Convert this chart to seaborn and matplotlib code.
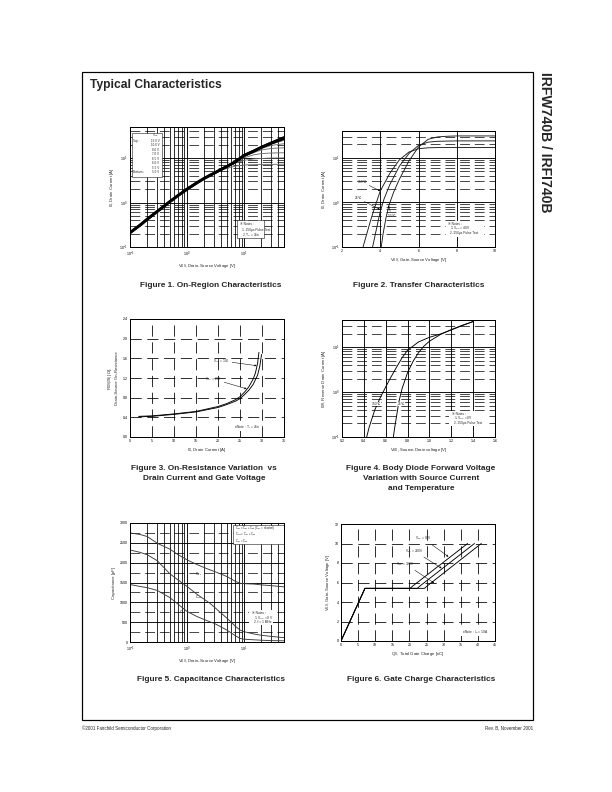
import numpy as np
import pandas as pd
import matplotlib
matplotlib.use("Agg")
import matplotlib.pyplot as plt
import seaborn as sns
from matplotlib.ticker import MultipleLocator, LogLocator, FormatStrFormatter, NullFormatter, FixedLocator
from matplotlib.patches import Rectangle
from matplotlib import font_manager as fm

# ---------------- data ----------------
# Figure 1: On-region characteristics
f1_vds = [0.1, 0.15, 0.2, 0.3, 0.5, 0.7, 1, 1.5, 2, 3, 4, 5, 7, 10, 15, 20, 30, 50]
f1_id_15v = [0.21, 0.31, 0.42, 0.63, 1.05, 1.45, 2.0, 2.8, 3.5, 4.6, 5.6, 6.5, 8.2, 11.5, 14.5, 17.5, 22.0, 29.0]
f1_id_10v = [0.21, 0.31, 0.42, 0.63, 1.05, 1.45, 2.0, 2.8, 3.5, 4.6, 5.6, 6.5, 8.2, 11.5, 14.5, 17.4, 21.6, 27.5]
f1_id_8v = [0.21, 0.31, 0.42, 0.63, 1.05, 1.45, 2.0, 2.8, 3.5, 4.6, 5.6, 6.5, 8.2, 11.4, 14.3, 17.0, 20.8, 25.0]
f1_id_7v = [0.21, 0.31, 0.42, 0.63, 1.05, 1.45, 2.0, 2.8, 3.5, 4.6, 5.6, 6.5, 8.2, 11.2, 14.0, 16.4, 19.3, 21.0]
f1_id_65v = [0.21, 0.31, 0.42, 0.63, 1.05, 1.45, 2.0, 2.8, 3.5, 4.6, 5.6, 6.5, 8.1, 10.9, 13.4, 15.2, 16.5, 17.0]
f1_id_6v = [0.21, 0.31, 0.42, 0.63, 1.05, 1.45, 2.0, 2.8, 3.5, 4.6, 5.6, 6.5, 8.0, 10.2, 11.9, 12.6, 13.0, 13.2]
f1_id_55v = [0.21, 0.31, 0.42, 0.63, 1.05, 1.45, 2.0, 2.8, 3.5, 4.6, 5.5, 6.3, 7.7, 8.9, 9.6, 9.8, 10.0, 10.1]
f1_id_5v = [0.21, 0.31, 0.42, 0.63, 1.05, 1.45, 2.0, 2.8, 3.5, 4.5, 5.3, 5.9, 6.6, 7.0, 7.1, 7.2, 7.2, 7.3]
f1_vgs_names = ["15.0 V", "10.0 V", "8.0 V", "7.0 V", "6.5 V", "6.0 V", "5.5 V", "5.0 V"]

# Figure 2: Transfer characteristics
f2_vgs_150 = [3.1, 3.3, 3.5, 3.7, 4.0, 4.5, 5.0, 5.5, 6.0, 6.5, 7.0, 8.0, 10.0]
f2_id_150 = [0.1, 0.2, 0.4, 0.75, 1.8, 4.5, 9.0, 13.5, 16.0, 16.8, 17.0, 17.0, 17.0]
f2_vgs_25 = [3.6, 3.75, 3.9, 4.0, 4.2, 4.5, 5.0, 5.5, 6.0, 6.5, 7.0, 8.0, 10.0]
f2_id_25 = [0.1, 0.2, 0.4, 0.62, 1.2, 2.5, 6.5, 12.5, 19.0, 22.5, 23.5, 24.0, 24.0]
f2_vgs_m55 = [4.05, 4.15, 4.3, 4.45, 4.7, 5.0, 5.5, 6.0, 6.5, 7.0, 7.5, 8.0, 10.0]
f2_id_m55 = [0.1, 0.2, 0.45, 0.85, 1.7, 3.3, 8.5, 17.5, 26.0, 29.5, 30.5, 31.0, 31.0]

# Figure 3: On-resistance vs drain current
f3_id_10v = [2, 5, 10, 15, 20, 22, 24, 25, 26, 27, 28, 28.5, 29, 29.3]
f3_rds_10v = [0.42, 0.43, 0.47, 0.52, 0.62, 0.68, 0.76, 0.82, 0.91, 1.02, 1.18, 1.30, 1.50, 1.72]
f3_id_20v = [2, 5, 10, 15, 20, 22, 24, 25, 26, 27, 28, 29, 29.5, 29.9]
f3_rds_20v = [0.41, 0.42, 0.46, 0.51, 0.60, 0.66, 0.73, 0.78, 0.86, 0.95, 1.07, 1.26, 1.44, 1.68]

# Figure 4: Body diode forward voltage
f4_vsd_150 = [0.426, 0.45, 0.5, 0.55, 0.6, 0.65, 0.7, 0.75, 0.8, 0.9, 1.0, 1.1, 1.2, 1.3, 1.4]
f4_idr_150 = [0.1, 0.17, 0.4, 0.75, 1.3, 2.2, 3.6, 5.8, 8.5, 13.0, 16.5, 19.5, 24.0, 30.0, 37.0]
f4_vsd_25 = [0.67, 0.68, 0.7, 0.72, 0.75, 0.8, 0.85, 0.9, 0.95, 1.0, 1.1, 1.2, 1.3, 1.4]
f4_idr_25 = [0.1, 0.15, 0.3, 0.6, 1.2, 2.7, 4.8, 7.5, 10.5, 13.5, 19.0, 24.5, 30.5, 37.0]

# Figure 5: Capacitance
f5_vds = [0.1, 0.15, 0.2, 0.3, 0.5, 0.7, 1, 1.5, 2.5, 3, 5, 7, 8.5, 10, 15, 20, 30, 50]
f5_ciss = [2750, 2710, 2660, 2490, 2340, 2200, 2070, 1950, 1820, 1780, 1650, 1530, 1480, 1470, 1460, 1440, 1420, 1390]
f5_coss = [2320, 2260, 2200, 2050, 1720, 1560, 1400, 1200, 980, 880, 600, 400, 300, 260, 200, 170, 140, 110]
f5_crss = [1450, 1400, 1370, 1300, 1120, 950, 770, 640, 510, 470, 300, 160, 90, 70, 55, 45, 35, 30]

# Figure 6: Gate charge
f6_qg_80 = [0, 7, 20.2, 21, 37]
f6_vgs_80 = [0, 5.4, 5.4, 5.65, 10]
f6_qg_200 = [0, 7, 22.3, 23.1, 39]
f6_vgs_200 = [0, 5.4, 5.4, 5.65, 10]
f6_qg_320 = [0, 7, 24.4, 25.2, 41]
f6_vgs_320 = [0, 5.4, 5.4, 5.65, 10]

# ---------------- style ----------------
sns.set_style("white")
plt.rcParams["font.family"] = ["Liberation Sans", "DejaVu Sans"]
plt.rcParams["mathtext.fontset"] = "custom"
plt.rcParams["mathtext.rm"] = "Liberation Sans"
plt.rcParams["mathtext.it"] = "Liberation Sans:italic"
plt.rcParams["mathtext.bf"] = "Liberation Sans:bold"
plt.rcParams["axes.unicode_minus"] = False


def has_font(name):
    try:
        fm.findfont(fm.FontProperties(family=name), fallback_to_default=False)
        return True
    except Exception:
        return False


NARROW = has_font("Liberation Sans Narrow")
CAP_FAM = ["Liberation Sans Narrow", "DejaVu Sans"] if NARROW else ["Liberation Sans", "DejaVu Sans"]
CAP_SIZE = 10.0 if NARROW else 8.3
CAP_LS = 1.3 if NARROW else 1.55

W, H = 612, 792
fig = plt.figure(figsize=(W / 72, H / 72), dpi=72)


def rect(x0, y0, x1, y1):
    return [x0 / W, 1 - y1 / H, (x1 - x0) / W, (y1 - y0) / H]


DASH = (0, (14, 7))
TICK = 3.6
LAB = 4.3
NOTE = 3.3


def base_axes(r):
    ax = fig.add_axes(r)
    for s in ax.spines.values():
        s.set_visible(True)
        s.set_color("black")
        s.set_linewidth(1.0)
        s.set_zorder(5)
    ax.tick_params(which="both", direction="in", length=0, labelsize=TICK, pad=2.5, colors="black")
    ax.set_axisbelow(True)
    return ax


def note(ax, lines, x, y, dy, box=None):
    for i, t in enumerate(lines):
        ax.text(x + (0.01 if i else 0), y - i * dy, t, transform=ax.transAxes, fontsize=NOTE,
                ha="left", va="center", zorder=7)
    if box is not None:
        x0, y0, x1, y1 = box
        ax.add_patch(Rectangle((x0, y0), x1 - x0, y1 - y0, transform=ax.transAxes,
                               facecolor="white", edgecolor="black", lw=0.5, zorder=6))


def white_bg(ax, x0, y0, x1, y1):
    ax.add_patch(Rectangle((x0, y0), x1 - x0, y1 - y0, transform=ax.transAxes,
                           facecolor="white", edgecolor="none", zorder=6))


arrow = dict(arrowstyle="-|>", lw=0.5, color="black", mutation_scale=3.5, shrinkA=0, shrinkB=0)

# ---------------- Figure 1 ----------------
ax1 = base_axes(rect(130, 127, 284, 247))
ax1.set_xscale("log")
ax1.set_yscale("log")
f1_series = [f1_id_5v, f1_id_55v, f1_id_6v, f1_id_65v, f1_id_7v, f1_id_8v, f1_id_10v, f1_id_15v]
f1_names = f1_vgs_names[::-1]
for name, vals in zip(f1_names, f1_series):
    df = pd.DataFrame({"VDS": f1_vds, "ID": vals})
    if name in ("15.0 V", "10.0 V"):
        sns.lineplot(data=df, x="VDS", y="ID", ax=ax1, color="black", lw=2.8, estimator=None, zorder=4)
    else:
        sns.lineplot(data=df, x="VDS", y="ID", ax=ax1, color="#6e6e6e", lw=0.9, estimator=None, zorder=3)
ax1.set_xlim(0.1, 50)
ax1.set_ylim(0.1, 50)
ax1.xaxis.set_major_locator(LogLocator(10))
ax1.yaxis.set_major_locator(LogLocator(10))
ax1.xaxis.set_minor_locator(LogLocator(10, subs=np.arange(2, 10)))
ax1.yaxis.set_minor_locator(LogLocator(10, subs=np.arange(2, 10)))
ax1.xaxis.set_minor_formatter(NullFormatter())
ax1.yaxis.set_minor_formatter(NullFormatter())
ax1.grid(True, which="major", color="black", lw=0.9, ls="-")
ax1.xaxis.grid(True, which="minor", color="black", lw=0.8, ls="-")
ax1.yaxis.grid(True, which="minor", color="black", lw=0.7, ls=DASH)
ax1.set_xlabel(r"$\mathregular{V_{DS}}$, Drain-Source Voltage [V]", fontsize=LAB, labelpad=3)
ax1.set_ylabel(r"$\mathregular{I_D}$, Drain Current [A]", fontsize=LAB, labelpad=3)
# legend box
ax1.add_patch(Rectangle((0.013, 0.583), 0.195, 0.367, transform=ax1.transAxes,
                        facecolor="white", edgecolor="black", lw=0.5, zorder=6))
ax1.text(0.19, 0.928, r"V$\mathregular{_{GS}}$", transform=ax1.transAxes, fontsize=3.0,
         ha="right", va="center", zorder=7)
for i, nm in enumerate(f1_vgs_names):
    yy = 0.887 - i * 0.0375
    ax1.text(0.19, yy, nm, transform=ax1.transAxes, fontsize=3.0, ha="right", va="center", zorder=7)
ax1.text(0.022, 0.887, "Top :", transform=ax1.transAxes, fontsize=3.0, ha="left", va="center", zorder=7)
ax1.text(0.022, 0.887 - 7 * 0.0375, "Bottom :", transform=ax1.transAxes, fontsize=3.0,
         ha="left", va="center", zorder=7)
note(ax1, ["※ Notes :", "1. 250μs Pulse Test", r"2. T$\mathregular{_C}$ = 25℃"],
     0.715, 0.19, 0.045, box=(0.695, 0.075, 0.87, 0.225))

# ---------------- Figure 2 ----------------
ax2 = base_axes(rect(342, 131, 495, 247))
ax2.set_yscale("log")
for xs, ys in [(f2_vgs_150, f2_id_150), (f2_vgs_25, f2_id_25), (f2_vgs_m55, f2_id_m55)]:
    df = pd.DataFrame({"VGS": xs, "ID": ys})
    sns.lineplot(data=df, x="VGS", y="ID", ax=ax2, color="#1a1a1a", lw=0.9, estimator=None, zorder=4)
ax2.set_xlim(2, 10)
ax2.set_ylim(0.1, 40)
ax2.xaxis.set_major_locator(MultipleLocator(2))
ax2.yaxis.set_major_locator(LogLocator(10))
ax2.yaxis.set_minor_locator(LogLocator(10, subs=np.arange(2, 10)))
ax2.yaxis.set_minor_formatter(NullFormatter())
ax2.grid(True, which="major", color="black", lw=0.9, ls="-")
ax2.yaxis.grid(True, which="minor", color="black", lw=0.7, ls=DASH)
ax2.set_xlabel(r"$\mathregular{V_{GS}}$, Gate-Source Voltage [V]", fontsize=LAB, labelpad=3)
ax2.set_ylabel(r"$\mathregular{I_D}$, Drain Current [A]", fontsize=LAB, labelpad=3)
ax2.annotate("150℃", xy=(4.0, 1.8), xytext=(3.05, 2.9), fontsize=NOTE, ha="center", va="center",
             arrowprops=arrow, zorder=7)
ax2.annotate("25℃", xy=(3.99, 0.69), xytext=(2.85, 1.23), fontsize=NOTE, ha="center", va="center",
             arrowprops=arrow, zorder=7)
ax2.annotate("-55℃", xy=(4.42, 0.85), xytext=(4.6, 0.5), fontsize=NOTE, ha="center", va="center",
             arrowprops=arrow, zorder=7)
white_bg(ax2, 0.68, 0.09, 0.93, 0.225)
note(ax2, ["※ Notes :", r"1. V$\mathregular{_{DS}}$ = 40V", "2. 250μs Pulse Test"], 0.693, 0.198, 0.04)

# ---------------- Figure 3 ----------------
ax3 = base_axes(rect(130, 319, 284, 437))
for xs, ys in [(f3_id_10v, f3_rds_10v), (f3_id_20v, f3_rds_20v)]:
    df = pd.DataFrame({"ID": xs, "RDS": ys})
    sns.lineplot(data=df, x="ID", y="RDS", ax=ax3, color="black", lw=0.9, estimator=None, zorder=4)
ax3.set_xlim(0, 35)
ax3.set_ylim(0, 2.4)
ax3.xaxis.set_major_locator(MultipleLocator(5))
ax3.yaxis.set_major_locator(MultipleLocator(0.4))
ax3.yaxis.set_major_formatter(FormatStrFormatter("%.1f"))
ax3.grid(True, which="major", color="black", lw=0.8, ls=DASH)
ax3.set_xlabel(r"$\mathregular{I_D}$, Drain Current [A]", fontsize=LAB, labelpad=3)
ax3.set_ylabel(r"$\mathregular{R_{DS(ON)}}$ [Ω]," + "\nDrain-Source On-Resistance", fontsize=LAB,
               labelpad=3, linespacing=1.2)
ax3.annotate(r"V$\mathregular{_{GS}}$ = 10V", xy=(28.8, 1.45), xytext=(20.7, 1.55), fontsize=NOTE,
             ha="center", va="center", arrowprops=arrow, zorder=7)
ax3.annotate(r"V$\mathregular{_{GS}}$ = 20V", xy=(26.5, 0.98), xytext=(18.9, 1.18), fontsize=NOTE,
             ha="center", va="center", arrowprops=arrow, zorder=7)
ax3.text(0.76, 0.085, r"※ Note : T$\mathregular{_J}$ = 25℃", transform=ax3.transAxes, fontsize=NOTE,
         ha="center", va="center", zorder=7,
         bbox=dict(facecolor="white", edgecolor="none", pad=0.6))

# ---------------- Figure 4 ----------------
ax4 = base_axes(rect(342, 320, 495, 437))
ax4.set_yscale("log")
for xs, ys in [(f4_vsd_150, f4_idr_150), (f4_vsd_25, f4_idr_25)]:
    df = pd.DataFrame({"VSD": xs, "IDR": ys})
    sns.lineplot(data=df, x="VSD", y="IDR", ax=ax4, color="black", lw=0.9, estimator=None, zorder=4)
ax4.set_xlim(0.2, 1.6)
ax4.set_ylim(0.1, 40)
ax4.xaxis.set_major_locator(MultipleLocator(0.2))
ax4.xaxis.set_major_formatter(FormatStrFormatter("%.1f"))
ax4.yaxis.set_major_locator(LogLocator(10))
ax4.yaxis.set_minor_locator(LogLocator(10, subs=np.arange(2, 10)))
ax4.yaxis.set_minor_formatter(NullFormatter())
ax4.grid(True, which="major", color="black", lw=0.9, ls="-")
ax4.yaxis.grid(True, which="minor", color="black", lw=0.7, ls=DASH)
ax4.set_xlabel(r"$\mathregular{V_{SD}}$, Source-Drain voltage [V]", fontsize=LAB, labelpad=3)
ax4.set_ylabel(r"$\mathregular{I_{DR}}$, Reverse Drain Current [A]", fontsize=LAB, labelpad=3)
ax4.text(0.515, 0.54, "150℃", fontsize=NOTE, ha="center", va="center", zorder=7,
         bbox=dict(facecolor="white", edgecolor="none", pad=0.3))
ax4.text(0.745, 0.54, "25℃", fontsize=NOTE, ha="center", va="center", zorder=7,
         bbox=dict(facecolor="white", edgecolor="none", pad=0.3))
white_bg(ax4, 0.70, 0.09, 0.95, 0.225)
note(ax4, ["※ Notes :", r"1. V$\mathregular{_{GS}}$ = 0V", "2. 250μs Pulse Test"], 0.719, 0.197, 0.04)

# ---------------- Figure 5 ----------------
ax5 = base_axes(rect(130, 523, 284, 642))
ax5.set_xscale("log")
for ys in [f5_ciss, f5_coss, f5_crss]:
    df = pd.DataFrame({"VDS": f5_vds, "C": ys})
    sns.lineplot(data=df, x="VDS", y="C", ax=ax5, color="#3a3a3a", lw=0.9, estimator=None, zorder=4)
ax5.set_xlim(0.1, 50)
ax5.set_ylim(0, 3000)
ax5.xaxis.set_major_locator(LogLocator(10))
ax5.xaxis.set_minor_locator(LogLocator(10, subs=np.arange(2, 10)))
ax5.xaxis.set_minor_formatter(NullFormatter())
ax5.yaxis.set_major_locator(MultipleLocator(500))
ax5.yaxis.set_minor_locator(FixedLocator([250, 750, 1250, 1750, 2250, 2750]))
ax5.grid(True, which="major", color="black", lw=0.9, ls="-")
ax5.xaxis.grid(True, which="minor", color="black", lw=0.8, ls="-")
ax5.yaxis.grid(True, which="minor", color="black", lw=0.7, ls=DASH)
ax5.set_xlabel(r"$\mathregular{V_{DS}}$, Drain-Source Voltage [V]", fontsize=LAB, labelpad=3)
ax5.set_ylabel("Capacitance [pF]", fontsize=LAB, labelpad=3)
ax5.add_patch(Rectangle((0.669, 0.825), 0.331, 0.162, transform=ax5.transAxes,
                        facecolor="white", edgecolor="black", lw=0.5, zorder=6))
for i, t in enumerate([r"C$\mathregular{_{iss}}$ = C$\mathregular{_{gs}}$ + C$\mathregular{_{gd}}$ (C$\mathregular{_{ds}}$ = shorted)",
                       r"C$\mathregular{_{oss}}$ = C$\mathregular{_{ds}}$ + C$\mathregular{_{gd}}$",
                       r"C$\mathregular{_{rss}}$ = C$\mathregular{_{gd}}$"]):
    ax5.text(0.68, 0.96 - i * 0.052, t, transform=ax5.transAxes, fontsize=2.8, ha="left",
             va="center", zorder=7)
ax5.text(1.6, 1700, r"C$\mathregular{_{iss}}$", fontsize=NOTE, ha="center", va="center", zorder=7)
ax5.text(1.6, 1130, r"C$\mathregular{_{oss}}$", fontsize=NOTE, ha="center", va="center", zorder=7)
ax5.text(0.85, 740, r"C$\mathregular{_{rss}}$", fontsize=NOTE, ha="center", va="center", zorder=7)
white_bg(ax5, 0.775, 0.14, 0.93, 0.265)
note(ax5, ["※ Notes :", r"1. V$\mathregular{_{GS}}$ = 0 V", "2. f = 1 MHz"], 0.792, 0.244, 0.04)

# ---------------- Figure 6 ----------------
ax6 = base_axes(rect(341, 524, 495, 641))
for xs, ys in [(f6_qg_80, f6_vgs_80), (f6_qg_200, f6_vgs_200), (f6_qg_320, f6_vgs_320)]:
    df = pd.DataFrame({"QG": xs, "VGS": ys})
    sns.lineplot(data=df, x="QG", y="VGS", ax=ax6, color="black", lw=0.9, estimator=None, zorder=4,
                 sort=False)
ax6.set_xlim(0, 45)
ax6.set_ylim(0, 12)
ax6.xaxis.set_major_locator(MultipleLocator(5))
ax6.yaxis.set_major_locator(MultipleLocator(2))
ax6.grid(True, which="major", color="black", lw=0.8, ls=DASH)
ax6.set_xlabel(r"$\mathregular{Q_G}$, Total Gate Charge [nC]", fontsize=LAB, labelpad=3)
ax6.set_ylabel(r"$\mathregular{V_{GS}}$, Gate-Source Voltage [V]", fontsize=LAB, labelpad=3)
ax6.annotate(r"V$\mathregular{_{DS}}$ = 80V", xy=(31.4, 8.65), xytext=(24.1, 10.5), fontsize=NOTE,
             ha="center", va="center", arrowprops=arrow, zorder=7)
ax6.annotate(r"V$\mathregular{_{DS}}$ = 200V", xy=(29.4, 7.46), xytext=(21.3, 9.26), fontsize=NOTE,
             ha="center", va="center", arrowprops=arrow, zorder=7)
ax6.annotate(r"V$\mathregular{_{DS}}$ = 320V", xy=(27.2, 5.95), xytext=(18.8, 7.9), fontsize=NOTE,
             ha="center", va="center", arrowprops=arrow, zorder=7)
ax6.text(0.87, 0.077, r"※ Note : I$\mathregular{_D}$ = 10A", transform=ax6.transAxes, fontsize=NOTE,
         ha="center", va="center", zorder=7,
         bbox=dict(facecolor="white", edgecolor="none", pad=0.6))

# ---------------- page text ----------------
fig.patches.append(Rectangle((82 / W, 1 - 720 / H), (533 - 82) / W, (720 - 72) / H,
                             transform=fig.transFigure, fill=False, edgecolor="black", lw=1.2))
fig.text(90 / W, 1 - 85 / H, "Typical Characteristics", fontsize=12, fontweight="bold",
         ha="left", va="center")
fig.text(545 / W, 1 - 72 / H, "IRFW740B / IRFI740B", fontsize=14, fontweight="bold",
         ha="center", va="top", rotation=-90)
fig.text(82 / W, 1 - 728 / H, "©2001 Fairchild Semiconductor Corporation", fontsize=4.5,
         ha="left", va="center")
fig.text(533 / W, 1 - 728 / H, "Rev. B, November 2001", fontsize=4.5, ha="right", va="center")


def caption(xc, yc, text):
    fig.text(xc / W, 1 - yc / H, text, fontsize=CAP_SIZE, fontweight="bold", family=CAP_FAM,
             ha="center", va="top", linespacing=CAP_LS, multialignment="center")


caption(211, 282, "Figure 1. On-Region Characteristics")
caption(419, 282, "Figure 2. Transfer Characteristics")
caption(204, 465, "Figure 3. On-Resistance Variation  vs\nDrain Current and Gate Voltage")
caption(421, 465, "Figure 4. Body Diode Forward Voltage\nVariation with Source Current\nand Temperature")
caption(211, 676, "Figure 5. Capacitance Characteristics")
caption(421, 676, "Figure 6. Gate Charge Characteristics")

fig.savefig("out.png", dpi=72)
